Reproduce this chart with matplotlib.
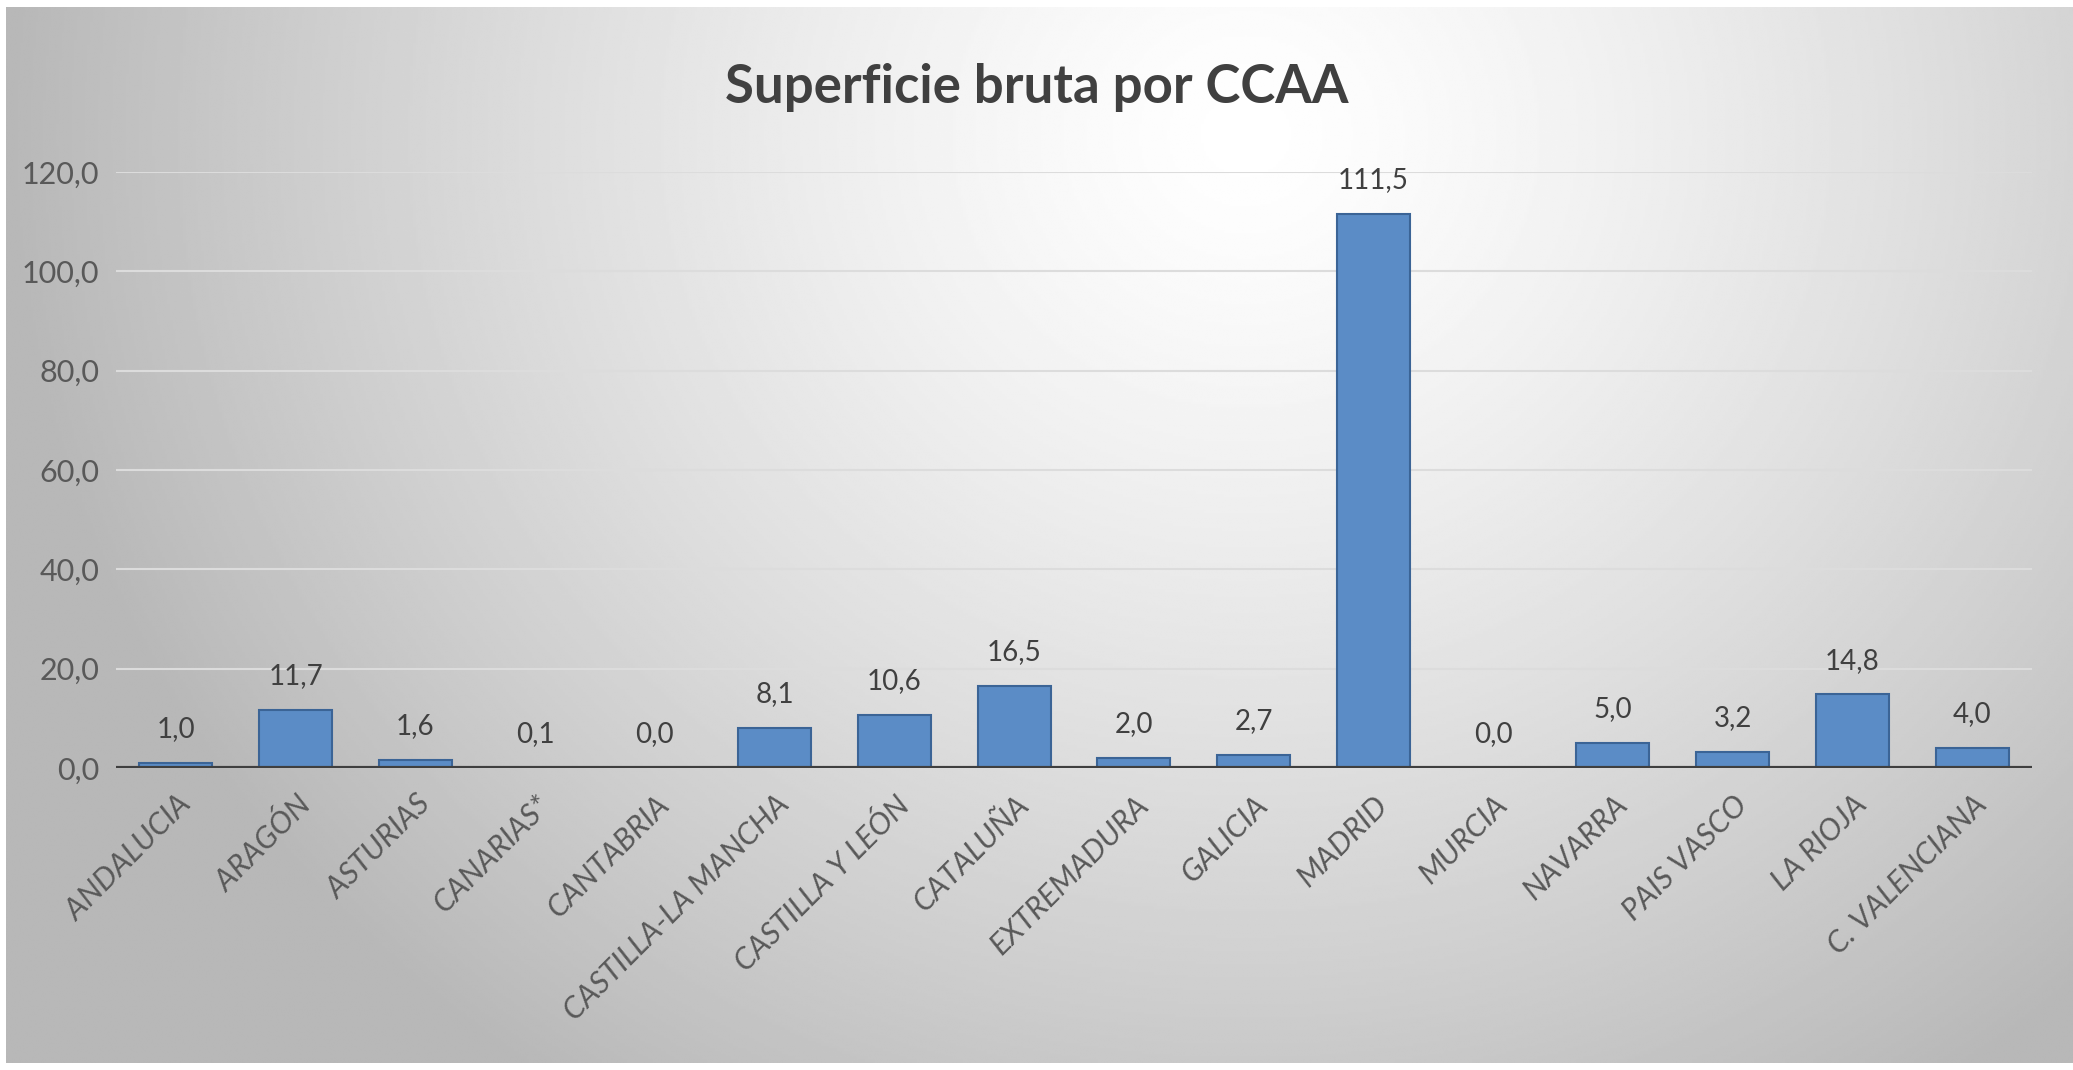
import numpy as np
import matplotlib
matplotlib.use("Agg")
import matplotlib.pyplot as plt

# Datos
regiones = ["ANDALUCIA", "ARAGÓN", "ASTURIAS", "CANARIAS*", "CANTABRIA",
            "CASTILLA-LA MANCHA", "CASTILLA Y LEÓN", "CATALUÑA", "EXTREMADURA",
            "GALICIA", "MADRID", "MURCIA", "NAVARRA", "PAIS VASCO", "LA RIOJA",
            "C. VALENCIANA"]
superficie = [1.0, 11.7, 1.6, 0.1, 0.0, 8.1, 10.6, 16.5, 2.0, 2.7, 111.5,
              0.0, 5.0, 3.2, 14.8, 4.0]
yticks = [0, 20, 40, 60, 80, 100, 120]

plt.rcParams['font.family'] = ['Lato', 'DejaVu Sans']

W, H = 2073, 1070
fig = plt.figure(figsize=(W / 100, H / 100), dpi=100, facecolor="white")

# fondo con degradado radial (blanco en el centro, gris en los bordes)
bg = fig.add_axes([6 / W, 7 / H, 1 - 6 / W, 1 - 14 / H], zorder=-10)
yy, xx = np.mgrid[0:1:400j, 0:1:800j]
d = np.sqrt(((xx - 0.6) / 0.55) ** 2 + ((yy - 0.12) / 1.0) ** 2)
val = np.clip(1 - 0.25 * d ** 1.3, 0.72, 1)
bg.imshow(val, cmap="gray", vmin=0, vmax=1, aspect="auto", origin="upper",
          interpolation="bilinear")
bg.axis("off")

ax = fig.add_axes([116 / W, 302 / H, (2032 - 116) / W, (898 - 302) / H])
ax.patch.set_alpha(0)

x = np.arange(len(regiones))
ax.bar(x, superficie, width=0.61, color="#5b8cc6", edgecolor="#3b6496",
       linewidth=1.5, zorder=3)

for xi, v in zip(x, superficie):
    ax.annotate(f"{v:.1f}".replace(".", ","), (xi, v), xytext=(0, 15),
                textcoords="offset points", ha="center", va="bottom",
                fontsize=20, color="#404040")

ax.set_xlim(-0.5, len(regiones) - 0.5)
ax.set_ylim(0, 120)
ax.set_yticks(yticks)
ax.set_yticklabels([f"{t:.1f}".replace(".", ",") for t in yticks],
                   fontsize=22, color="#595959")
ax.set_xticks(x)
ax.set_xticklabels(regiones, rotation=45, ha="right", rotation_mode="anchor",
                   fontsize=22, color="#595959", style="italic")
ax.tick_params(length=0)
ax.tick_params(axis="y", pad=12)
ax.tick_params(axis="x", pad=16)
ax.grid(axis="y", color="#dcdcdc", linewidth=1.5, zorder=0)
ax.axhline(0, color="#3f3f3f", linewidth=3, zorder=4)
for s in ax.spines.values():
    s.set_visible(False)

fig.text(0.5, 0.918, "Superficie bruta por CCAA", ha="center", va="center",
         fontsize=38, fontweight="bold", color="#404040")

fig.savefig("out.png", dpi=100, facecolor="white")
